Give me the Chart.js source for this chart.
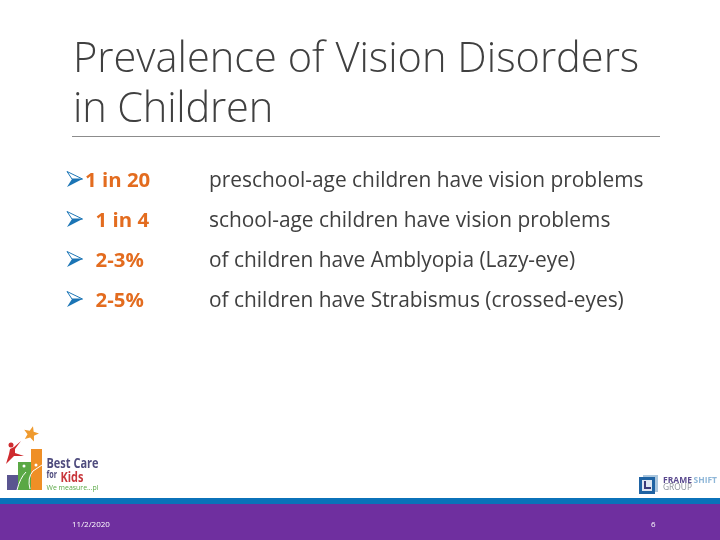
<!DOCTYPE html>
<html>
<head>
<meta charset="utf-8">
<title>Prevalence of Vision Disorders in Children</title>
<script src="https://cdn.jsdelivr.net/npm/chart.js@4"></script>
<style>
  html, body { margin: 0; padding: 0; background: #fff; }
  canvas { display: block; }
</style>
</head>
<body>
<canvas id="slide" width="720" height="540"></canvas>
<script>
const titleLines = ['Prevalence of Vision Disorders', 'in Children']
const statLabels = ['1 in 20', '1 in 4', '2-3%', '2-5%']
const statTexts = [
  'preschool-age children have vision problems',
  'school-age children have vision problems',
  'of children have Amblyopia (Lazy-eye)',
  'of children have Strabismus (crossed-eyes)'
]
const footerDate = '11/2/2020'
const footerPage = '6'

const FONT = '"Open Sans", "Noto Sans", sans-serif'
const GREY = '#404040'
const ORANGE = '#e36c1f'

// wingdings style arrow bullet, upper half outline, lower half solid
function makeArrow() {
  const c = document.createElement('canvas')
  c.width = 18
  c.height = 18
  const g = c.getContext('2d')
  g.fillStyle = '#1b75b5'
  g.beginPath()
  g.moveTo(1, 16); g.lineTo(16.5, 8); g.lineTo(6, 8)
  g.closePath()
  g.fill()
  g.strokeStyle = '#1b75b5'
  g.lineWidth = 1
  g.beginPath()
  g.moveTo(1, 0.5); g.lineTo(16.5, 8); g.lineTo(6, 8)
  g.closePath()
  g.stroke()
  return c
}

function text(ctx, str, x, y, font, color, spacing) {
  ctx.font = font
  ctx.fillStyle = color
  ctx.letterSpacing = (spacing || 0) + 'px'
  ctx.textAlign = 'left'
  ctx.textBaseline = 'alphabetic'
  ctx.fillText(str, x, y)
  ctx.letterSpacing = '0px'
}

// narrow text for the logos, squeezed to a width
function narrowText(ctx, str, x, y, width, font, color) {
  ctx.font = font
  ctx.fillStyle = color
  ctx.textAlign = 'left'
  ctx.textBaseline = 'alphabetic'
  ctx.fillText(str, x, y, width)
}

function rect(ctx, x, y, w, h, color) {
  ctx.fillStyle = color
  ctx.fillRect(x, y, w, h)
}

function drawCareLogo(ctx) {
  rect(ctx, 7, 475, 11, 15, '#5a5590')
  rect(ctx, 18, 462, 13, 28, '#5aa845')
  rect(ctx, 31, 449, 11, 41, '#ef8f26')
  ctx.strokeStyle = '#fff'
  ctx.lineWidth = 1
  ctx.beginPath()
  ctx.moveTo(17, 490); ctx.quadraticCurveTo(20, 478, 26, 472)
  ctx.moveTo(30, 489); ctx.quadraticCurveTo(27, 478, 33, 471)
  ctx.lineTo(42, 465)
  ctx.stroke()
  ctx.fillStyle = '#fff'
  ctx.beginPath()
  ctx.arc(24, 466, 1.5, 0, Math.PI * 2)
  ctx.arc(36, 465, 1.5, 0, Math.PI * 2)
  ctx.fill()

  // star
  ctx.fillStyle = '#ef9a2e'
  ctx.beginPath()
  for (let i = 0; i < 10; i++) {
    const r = i % 2 ? 3.5 : 8
    const a = -Math.PI / 2 + 0.25 + i * Math.PI / 5
    ctx.lineTo(31 + r * Math.cos(a), 434 + r * Math.sin(a))
  }
  ctx.closePath()
  ctx.fill()

  // red figure
  ctx.fillStyle = '#cf2a2e'
  ctx.beginPath()
  ctx.moveTo(21, 441); ctx.lineTo(15, 449); ctx.lineTo(15, 453); ctx.lineTo(24, 456)
  ctx.lineTo(14, 456); ctx.lineTo(6, 464); ctx.lineTo(9, 454)
  ctx.lineTo(10, 449); ctx.lineTo(14, 447)
  ctx.closePath()
  ctx.fill()
  ctx.beginPath()
  ctx.arc(11, 445, 2.5, 0, Math.PI * 2)
  ctx.fill()

  narrowText(ctx, 'Best Care', 46.5, 468, 52, 'bold 14px ' + FONT, '#4f4c7e')
  narrowText(ctx, 'for', 46.5, 478, 10.5, 'bold 10px ' + FONT, '#4f4c7e')
  narrowText(ctx, 'Kids', 60.5, 481.5, 23, 'bold 14px ' + FONT, '#c8363b')
  narrowText(ctx, 'We measure...pl', 46.5, 490, 52, '7.5px ' + FONT, '#5aa845')
}

function drawFrameshiftLogo(ctx) {
  rect(ctx, 643, 475, 15, 17, '#a9c6de')
  rect(ctx, 639, 477, 16, 17, '#1f63a3')
  rect(ctx, 642, 480, 10, 11, '#dfe8f2')
  rect(ctx, 644, 481, 2, 8, '#3a3a78')
  rect(ctx, 644, 487, 7, 2, '#3a3a78')
  narrowText(ctx, 'FRAME', 663, 482.5, 29.5, 'bold 8.5px ' + FONT, '#5b4a8f')
  narrowText(ctx, 'SHIFT', 693.5, 482.5, 23.5, 'bold 8.5px ' + FONT, '#8fb7d8')
  narrowText(ctx, 'GROUP', 663, 490, 29, '8.5px ' + FONT, '#8a8f98')
}

const slidePlugin = {
  id: 'slide',
  afterDraw(chart) {
    const ctx = chart.ctx
    const y = chart.scales.y
    ctx.save()

    text(ctx, titleLines[0], 73, 72, '300 41.6px ' + FONT, GREY, 0)
    text(ctx, titleLines[1], 73, 121.5, '300 41.6px ' + FONT, GREY, -0.2)
    rect(ctx, 72, 136, 588, 1, '#8c8c8c')

    statLabels.forEach((label, i) => {
      const rowY = y.getPixelForValue(i) + 7
      text(ctx, label, i === 0 ? 85 : 95.5, rowY, 'bold 20.4px ' + FONT, ORANGE, 0)
      text(ctx, statTexts[i], 209, rowY, '20.9px ' + FONT, GREY, 0)
    })

    drawCareLogo(ctx)
    drawFrameshiftLogo(ctx)

    rect(ctx, 0, 498, 720, 6, '#0b72b9')
    rect(ctx, 0, 504, 720, 36, '#6f2f9f')
    text(ctx, footerDate, 72, 526.5, '8px ' + FONT, '#fff', 0)
    text(ctx, footerPage, 651, 526.5, '8px ' + FONT, '#fff', 0)

    ctx.restore()
  }
}

new Chart(document.getElementById('slide'), {
  type: 'scatter',
  data: {
    labels: statLabels,
    datasets: [{
      data: statLabels.map(label => ({ x: 0, y: label })),
      pointStyle: makeArrow(),
      pointRadius: 9,
      clip: false
    }]
  },
  options: {
    responsive: false,
    animation: false,
    devicePixelRatio: 1,
    layout: { padding: { left: 75, right: 60, top: 160, bottom: 220 } },
    plugins: { legend: { display: false }, tooltip: { enabled: false } },
    scales: {
      x: { type: 'linear', min: 0, max: 1, display: false },
      y: { type: 'category', labels: statLabels, offset: true, display: false }
    }
  },
  plugins: [slidePlugin]
})
</script>
</body>
</html>
